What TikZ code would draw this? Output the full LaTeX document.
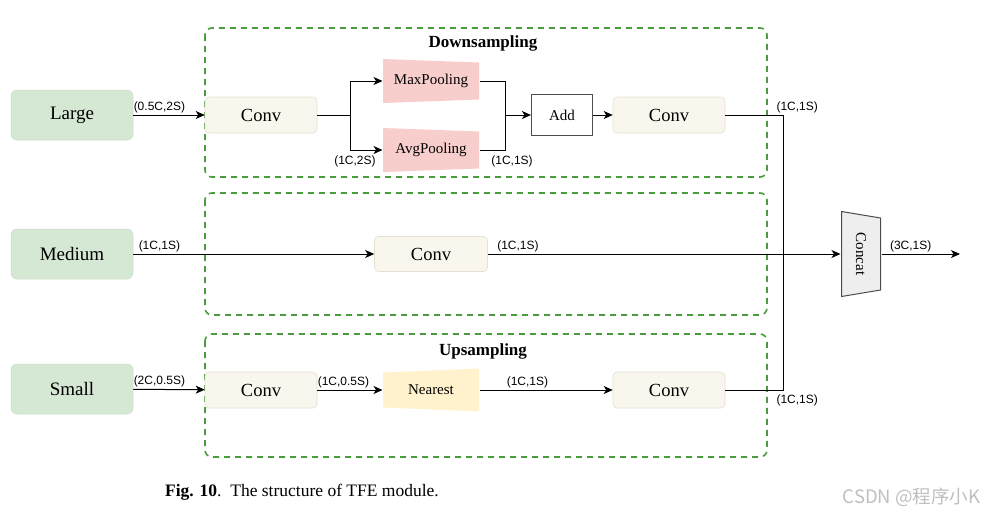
\documentclass[tikz,border=0pt]{standalone}
\usepackage{fontspec}
\setmainfont{Liberation Serif}
\newfontfamily\dimfont{Liberation Sans}
\newfontfamily\cjk{Noto Sans CJK SC}
\usetikzlibrary{arrows.meta}

\definecolor{levelgreen}{HTML}{D5E8D4}
\definecolor{convfill}{HTML}{F9F7ED}
\definecolor{convline}{HTML}{E4E0D2}
\definecolor{poolred}{HTML}{F8CECC}
\definecolor{nearyellow}{HTML}{FFF2CC}
\definecolor{groupgreen}{HTML}{4A9A3E}
\definecolor{catgray}{HTML}{EEEEEE}

\tikzset{
  >={Stealth[length=9pt,width=8pt,inset=2.5pt]},
  level/.style={rounded corners=6pt, fill=levelgreen, draw=levelgreen!95!black, line width=.5pt,
    minimum width=122pt, minimum height=50pt, font=\fontsize{19}{22}\selectfont},
  conv/.style={rounded corners=4pt, fill=convfill, draw=convline, line width=.6pt,
    minimum width=112pt, minimum height=36pt, font=\fontsize{18.5}{22}\selectfont},
  pooldown/.style={minimum width=96pt, minimum height=44pt, inner sep=0pt,
    font=\fontsize{15}{18}\selectfont,
    path picture={\fill[poolred] (path picture bounding box.north west)
      -- ([yshift=-3.5pt]path picture bounding box.north east)
      -- ([yshift=3.5pt]path picture bounding box.south east)
      -- (path picture bounding box.south west) -- cycle;}},
  poolup/.style={minimum width=96pt, minimum height=43pt, inner sep=0pt,
    font=\fontsize{15}{18}\selectfont,
    path picture={\fill[nearyellow] ([yshift=-4pt]path picture bounding box.north west)
      -- (path picture bounding box.north east)
      -- (path picture bounding box.south east)
      -- ([yshift=4pt]path picture bounding box.south west) -- cycle;}},
  catbox/.style={minimum width=40pt, minimum height=86pt, inner sep=0pt,
    font=\fontsize{15}{18}\selectfont,
    path picture={\filldraw[fill=catgray, draw=black!70, line width=1pt]
      ([xshift=.5pt,yshift=-.5pt]path picture bounding box.north west)
      -- ([xshift=-.5pt,yshift=-7pt]path picture bounding box.north east)
      -- ([xshift=-.5pt,yshift=7pt]path picture bounding box.south east)
      -- ([xshift=.5pt,yshift=.5pt]path picture bounding box.south west) -- cycle;}},
  addbox/.style={draw=black!70, line width=1.1pt, minimum width=61pt, minimum height=41pt,
    font=\fontsize{15}{18}\selectfont},
  group/.style={draw=groupgreen, line width=1.6pt, dash pattern=on 6pt off 5pt, rounded corners=7pt},
  title/.style={font=\bfseries\fontsize{17}{20}\selectfont},
  dim/.style={font=\dimfont\fontsize{12}{14}\selectfont, inner sep=2pt},
}

\begin{document}
\begin{tikzpicture}[x=1pt, y=-1pt, line width=1pt]

  \useasboundingbox (0,0) rectangle (983,515);

  %% dashed groups
  \draw[group] (205,28) rectangle (767,177);
  \draw[group] (205,193) rectangle (767,315);
  \draw[group] (205,334) rectangle (767,457);
  \node[title] (downtitle) at (483,43) {Downsampling};
  \node[title] (uptitle) at (483,351) {Upsampling};

  %% inputs
  \node[level] (large) at (72,115) {Large};
  \node[level] (medium) at (72,254) {Medium};
  \node[level] (small) at (72,389) {Small};

  %% downsampling
  \node[conv] (convA) at (261,115) {Conv};
  \node[pooldown] (maxpool) at (431,81) {MaxPooling};
  \node[pooldown] (avgpool) at (431,150) {AvgPooling};
  \node[addbox] (add) at (562,115) {Add};
  \node[conv] (convB) at (669,115) {Conv};

  %% medium
  \node[conv, minimum width=113pt, minimum height=35pt] (convM) at (431,254) {Conv};

  %% upsampling
  \node[conv] (convC) at (261,390) {Conv};
  \node[poolup] (nearest) at (431,390) {Nearest};
  \node[conv] (convD) at (669,390) {Conv};

  %% concat
  \node[catbox] (concat) at (861,254) {\rotatebox{-90}{Concat}};

  \coordinate (split) at (350,115);
  \coordinate (join) at (505,115);
  \coordinate (bus) at (783,115);
  \coordinate (out) at (960,254);

  \draw[->] (large) -- node[dim, pos=0, above right, inner xsep=0pt]{(0.5C,2S)} (convA); %% Large->Conv
  \draw (convA) -- (split);
  \draw[->] (split) |- (maxpool);
  \draw[->] (split) |- node[dim, pos=.5, below, xshift=5pt, yshift=-3pt]{(1C,2S)} (avgpool);
  \draw (maxpool) -| (join);
  \draw (avgpool) -| node[dim, pos=.5, below, xshift=7pt, yshift=-3pt]{(1C,1S)} (join);
  \draw[->] (join) -- (add);
  \draw[->] (add.east) -- (convB);

  \draw[->] (medium) -- node[dim, pos=0, above right, xshift=3pt]{(1C,1S)} (convM); %% Medium->Conv
  \draw[->] (convM) -- node[dim, pos=0, above right, xshift=7pt]{(1C,1S)} (concat); %% Conv->Concat
  \draw[->] (concat) -- node[dim, pos=0, above right, xshift=6pt]{(3C,1S)} (out);

  \draw[->] (small) -- node[dim, pos=0, above right, inner xsep=0pt]{(2C,0.5S)} (convC); %% Small->Conv
  \draw[->] (convC) -- node[dim, pos=0, above right, inner xsep=0pt]{(1C,0.5S)} (nearest);
  \draw[->] (nearest) -- node[dim, pos=.36, above]{(1C,1S)} (convD);

  \draw (convB) -- (bus) node[dim, above right, xshift=-9pt]{(1C,1S)}
    -- (bus |- convD) node[dim, below right, xshift=-9pt, yshift=-2pt]{(1C,1S)} -- (convD);

  %% caption
  \node[font=\fontsize{17.5}{20}\selectfont] (caption) at (302,492)
    {\textbf{Fig. 10}.\ \ The structure of TFE module.};
  \node[font=\cjk\fontsize{18.5}{20}\selectfont, text=black!25, anchor=west] (mark) at (839,497)
    {CSDN @程序小K};

\end{tikzpicture}
\end{document}
